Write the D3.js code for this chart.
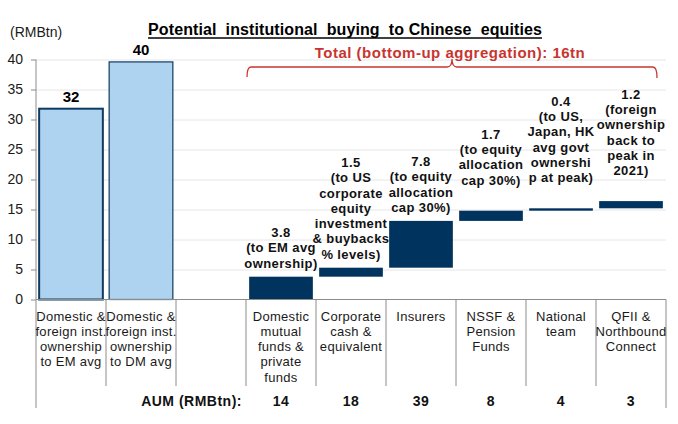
<!DOCTYPE html>
<html>
<head>
<meta charset="utf-8">
<script src="https://cdn.jsdelivr.net/npm/d3@7/dist/d3.min.js"></script>
<style>
  body { margin: 0; background: #fff; }
  svg { font-family: "Liberation Sans", Arial, sans-serif; display: block; }
  .grid line { stroke: #e6e6e6; }
  .grid .domain { display: none; }
  .y-axis .domain, .y-axis .tick line { stroke: #8c8c8c; }
  .y-axis text { font-size: 14px; fill: #1a1a1a; }
  .cat text { font-size: 13px; fill: #1a1a1a; letter-spacing: 0.3px; }
  .note { font-size: 13px; font-weight: bold; fill: #111; letter-spacing: 0.4px; }
  .aum { font-size: 14px; font-weight: bold; fill: #111; letter-spacing: 0.5px; }
</style>
</head>
<body>
<div id="chart"></div>
<script>
// categories, one array of text lines per slot
var categories = [
  ['Domestic &', 'foreign inst.', 'ownership', 'to EM avg'],
  ['Domestic &', 'foreign inst.', 'ownership', 'to DM avg'],
  [],
  ['Domestic', 'mutual', 'funds &', 'private', 'funds'],
  ['Corporate', 'cash &', 'equivalent'],
  ['Insurers'],
  ['NSSF &', 'Pension', 'Funds'],
  ['National', 'team'],
  ['QFII &', 'Northbound', 'Connect']
]

// top-down estimates (first two slots)
var totalValues = [31.8, 39.6]
var totalLabels = ['32', '40']

// bottom-up increments (slots 4..9), stacked as a waterfall
var increments = [3.8, 1.5, 7.8, 1.7, 0.4, 1.2]
var incrementNotes = [
  ['3.8', '(to EM avg', 'ownership)'],
  ['1.5', '(to US', 'corporate', 'equity', 'investment', '& buybacks', '% levels)'],
  ['7.8', '(to equity', 'allocation', 'cap 30%)'],
  ['1.7', '(to equity', 'allocation', 'cap 30%)'],
  ['0.4', '(to US,', 'Japan, HK', 'avg govt', 'ownershi', 'p at peak)'],
  ['1.2', '(foreign', 'ownership', 'back to', 'peak in', '2021)']
]

var aumValues = ['14', '18', '39', '8', '4', '3']
var yTicks = [0, 5, 10, 15, 20, 25, 30, 35, 40]

var width = 678, height = 424
var lineH = 15.3
var lightBlue = '#aed3f0', navy = '#00345e', red = '#c8352f'

var svg = d3.select('#chart').append('svg')
  .attr('width', width)
  .attr('height', height)

var x = d3.scaleBand()
  .domain(d3.range(categories.length))
  .range([36, 666])
  .paddingInner(0.09)
  .paddingOuter(0.045)

var y = d3.scaleLinear()
  .domain([0, 40])
  .range([299.5, 59.5])

var step = x.step()
var left = 36, right = 666

// 横向网格
svg.append('g')
  .attr('class', 'grid')
  .attr('transform', 'translate(' + left + ',0)')
  .call(d3.axisRight(y).tickValues(yTicks.slice(1)).tickSize(right - left).tickFormat(''))

// top-down bars
svg.append('g')
  .selectAll('rect')
  .data(totalValues)
  .enter().append('rect')
  .attr('x', function (d, i) { return x(i) })
  .attr('y', function (d) { return y(d) })
  .attr('width', x.bandwidth())
  .attr('height', function (d) { return y(0) - y(d) })
  .attr('fill', lightBlue)
  .attr('stroke', '#0f3a62')
  .attr('stroke-width', function (d, i) { return i === 0 ? 2 : 1.2 })

svg.append('g')
  .selectAll('text')
  .data(totalValues)
  .enter().append('text')
  .attr('x', function (d, i) { return x(i) + x.bandwidth() / 2 })
  .attr('y', function (d) { return y(d) - 7 })
  .attr('text-anchor', 'middle')
  .style('font-size', '15px')
  .style('font-weight', 'bold')
  .text(function (d, i) { return totalLabels[i] })

// waterfall bars
var base = 0
var steps = increments.map(function (v, i) {
  var s = { slot: i + 3, from: base, to: base + v, note: incrementNotes[i] }
  base += v
  return s
})

svg.append('g')
  .selectAll('rect')
  .data(steps)
  .enter().append('rect')
  .attr('x', function (d) { return x(d.slot) })
  .attr('y', function (d) { return y(d.to) })
  .attr('width', x.bandwidth())
  .attr('height', function (d) { return y(d.from) - y(d.to) })
  .attr('fill', navy)

// notes above the steps; the last three sit a bit higher
function noteLift (i) { return i < 3 ? 9 : 26 }

var notes = svg.append('g')
  .selectAll('text')
  .data(steps)
  .enter().append('text')
  .attr('class', 'note')
  .attr('text-anchor', 'middle')

notes.selectAll('tspan')
  .data(function (d, i) {
    var bottom = y(d.to) - noteLift(i)
    var n = d.note.length
    return d.note.map(function (t, k) {
      return { t: t, x: x(d.slot) + x.bandwidth() / 2, y: bottom - (n - 1 - k) * lineH }
    })
  })
  .enter().append('tspan')
  .attr('x', function (d) { return d.x })
  .attr('y', function (d) { return d.y })
  .text(function (d) { return d.t })

// y axis
svg.append('g')
  .attr('class', 'y-axis')
  .attr('transform', 'translate(' + left + ',0)')
  .call(d3.axisLeft(y).tickValues(yTicks).tickSize(5).tickPadding(8))
  .call(function (g) { g.select('.domain').attr('d', 'M0,' + y(40) + 'V' + y(0)) })

// x axis + category area
var axisG = svg.append('g').attr('stroke', '#8c8c8c').attr('fill', 'none')
axisG.append('line')
  .attr('x1', left).attr('x2', right)
  .attr('y1', y(0)).attr('y2', y(0))
axisG.selectAll('.sep')
  .data(d3.range(categories.length + 1))
  .enter().append('line')
  .attr('x1', function (i) { return left + i * step })
  .attr('x2', function (i) { return left + i * step })
  .attr('y1', y(0))
  .attr('y2', function (i) { return (i === 0 || i === categories.length) ? 408 : 386 })

var cat = svg.append('g').attr('class', 'cat')
  .selectAll('text')
  .data(categories)
  .enter().append('text')
  .attr('text-anchor', 'middle')

cat.selectAll('tspan')
  .data(function (lines, i) {
    return lines.map(function (t, k) {
      return { t: t, x: left + (i + 0.5) * step, y: 320.5 + k * lineH }
    })
  })
  .enter().append('tspan')
  .attr('x', function (d) { return d.x })
  .attr('y', function (d) { return d.y })
  .text(function (d) { return d.t })

// AUM row
svg.append('text')
  .attr('class', 'aum')
  .attr('x', left + 3 * step - 4)
  .attr('y', 406)
  .attr('text-anchor', 'end')
  .text('AUM (RMBtn):')

svg.append('g')
  .selectAll('text')
  .data(aumValues)
  .enter().append('text')
  .attr('class', 'aum')
  .attr('x', function (d, i) { return left + (i + 3.5) * step })
  .attr('y', 406)
  .attr('text-anchor', 'middle')
  .text(function (d) { return d })

// unit + title
svg.append('text')
  .attr('x', 10)
  .attr('y', 37)
  .style('font-size', '14px')
  .attr('fill', '#1a1a1a')
  .text('(RMBtn)')

var title = svg.append('text')
  .attr('x', 345)
  .attr('y', 35)
  .attr('text-anchor', 'middle')
  .style('font-size', '16px')
  .style('font-weight', 'bold')
  .style('letter-spacing', '0.1px')
  .style('white-space', 'pre')
  .text('Potential  institutional  buying  to Chinese  equities')

var tb = title.node().getBBox()
svg.append('line')
  .attr('x1', tb.x).attr('x2', tb.x + tb.width)
  .attr('y1', 38).attr('y2', 38)
  .attr('stroke', '#000')
  .attr('stroke-width', 1.6)

// brace over the bottom-up slots
var bx0 = left + 3 * step + 1, bx1 = right - 9
var bmid = (bx0 + bx1) / 2, by = 67
svg.append('path')
  .attr('fill', 'none')
  .attr('stroke', red)
  .attr('stroke-width', 1.3)
  .attr('d', 'M' + bx0 + ',' + (by + 10) +
    'Q' + bx0 + ',' + by + ' ' + (bx0 + 4) + ',' + by +
    'H' + (bmid - 5) +
    'Q' + bmid + ',' + by + ' ' + bmid + ',' + (by - 8) +
    'Q' + bmid + ',' + by + ' ' + (bmid + 5) + ',' + by +
    'H' + (bx1 - 4) +
    'Q' + bx1 + ',' + by + ' ' + bx1 + ',' + (by + 11))

svg.append('text')
  .attr('x', 450)
  .attr('y', 58)
  .attr('text-anchor', 'middle')
  .attr('fill', red)
  .style('font-size', '15px')
  .style('font-weight', 'bold')
  .style('letter-spacing', '0.5px')
  .text('Total (bottom-up aggregation): 16tn')
</script>
</body>
</html>
